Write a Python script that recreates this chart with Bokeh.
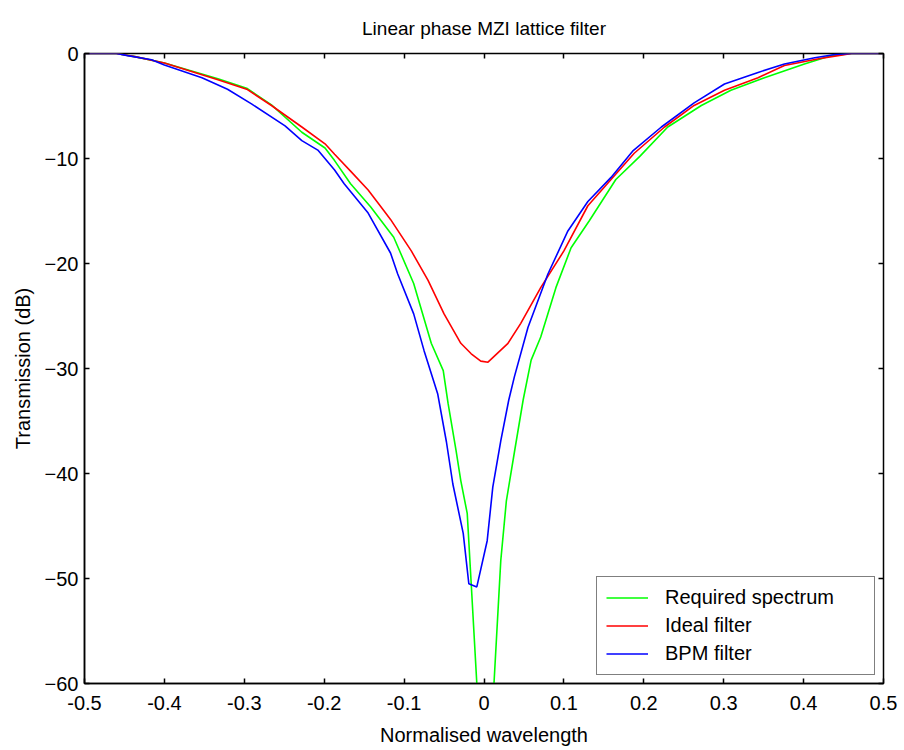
from bokeh.plotting import figure
from bokeh.models import LinearAxis, FixedTicker, Legend, LegendItem, Range1d
from bokeh.embed import file_html
from bokeh.resources import INLINE

# ---- data ----
req_x = [-0.5, -0.46, -0.437, -0.4, -0.333, -0.297, -0.266, -0.228, -0.199, -0.187, -0.167,
         -0.142, -0.113, -0.088, -0.066, -0.051, -0.045, -0.035, -0.029, -0.021, -0.016, -0.009,
         0.002, 0.0125, 0.021, 0.028, 0.038, 0.049, 0.059, 0.071, 0.090, 0.109, 0.132, 0.165,
         0.195, 0.230, 0.272, 0.309, 0.351, 0.401, 0.435, 0.46, 0.5]
req_y = [0, 0, -0.3, -0.9, -2.4, -3.3, -4.9, -7.5, -9.0, -10.2, -12.4,
         -14.6, -17.5, -21.9, -27.6, -30.2, -33.3, -37.8, -40.7, -43.8, -50.5, -60.0,
         -75.0, -60.0, -48.3, -42.6, -38.0, -33.0, -29.2, -27.0, -22.3, -18.5, -15.9, -12.0,
         -9.8, -7.0, -4.95, -3.5, -2.3, -1.0, -0.2, 0, 0]

ideal_x = [-0.5, -0.46, -0.437, -0.4, -0.333, -0.297, -0.266, -0.228, -0.199, -0.187, -0.167,
           -0.145, -0.125, -0.117, -0.091, -0.070, -0.050, -0.029, -0.016, -0.004, 0.005, 0.030,
           0.046, 0.071, 0.100, 0.130, 0.188, 0.226, 0.263, 0.301, 0.343, 0.376, 0.419, 0.443,
           0.46, 0.5]
ideal_y = [0, 0, -0.3, -0.9, -2.5, -3.4, -4.95, -7.0, -8.6, -9.6, -11.2,
           -13.0, -15.0, -15.8, -18.8, -21.6, -24.8, -27.6, -28.6, -29.3, -29.4, -27.6,
           -25.7, -22.3, -18.8, -14.5, -9.5, -7.0, -4.95, -3.5, -2.3, -1.14, -0.5, -0.2,
           0, 0]

bpm_x = [-0.5, -0.46, -0.446, -0.416, -0.4, -0.353, -0.321, -0.291, -0.249, -0.228, -0.208,
         -0.187, -0.175, -0.145, -0.117, -0.108, -0.088, -0.075, -0.058, -0.047, -0.039, -0.026,
         -0.019, -0.009, 0.004, 0.011, 0.021, 0.031, 0.038, 0.055, 0.080, 0.105, 0.130, 0.159,
         0.186, 0.222, 0.263, 0.301, 0.343, 0.376, 0.414, 0.439, 0.46, 0.5]
bpm_y = [0, 0, -0.2, -0.6, -1.1, -2.3, -3.4, -4.8, -6.9, -8.3, -9.2,
         -11.1, -12.4, -15.2, -19.0, -21.0, -24.8, -28.3, -32.4, -37.0, -41.0, -45.7,
         -50.5, -50.8, -46.4, -41.3, -36.9, -33.0, -30.8, -26.1, -21.0, -16.9, -14.1, -11.8,
         -9.3, -7.0, -4.7, -2.9, -1.8, -1.0, -0.4, -0.1, 0, 0]

x_ticks = [-0.5, -0.4, -0.3, -0.2, -0.1, 0, 0.1, 0.2, 0.3, 0.4, 0.5]
x_tick_labels = ["-0.5", "-0.4", "-0.3", "-0.2", "-0.1", "0", "0.1", "0.2", "0.3", "0.4", "0.5"]
y_ticks = [0, -10, -20, -30, -40, -50, -60]

FONT = "Liberation Sans"

p = figure(width=904, height=750, output_backend="svg", toolbar_location=None,
           x_range=Range1d(-0.5, 0.5), y_range=Range1d(-60, 0),
           min_border_left=84, min_border_right=21, min_border_top=53, min_border_bottom=67,
           title="Linear phase MZI lattice filter")
p.title.align = "center"
p.title.text_font = FONT
p.title.text_font_size = "19px"
p.title.text_font_style = "normal"
p.title.text_color = "black"
p.title.standoff = 30
p.grid.visible = False
p.outline_line_color = "black"
p.outline_line_width = 1.5
p.background_fill_color = "white"
p.border_fill_color = "white"

for ax in p.xaxis:
    ax.ticker = FixedTicker(ticks=x_ticks)
    ax.major_label_overrides = {t: l for t, l in zip(x_ticks, x_tick_labels)}
    ax.axis_label = "Normalised wavelength"
    ax.major_label_standoff = 12
    ax.axis_label_standoff = 11
for ax in p.yaxis:
    ax.ticker = FixedTicker(ticks=y_ticks)
    ax.axis_label = "Transmission (dB)"
    ax.major_label_standoff = 6
    ax.axis_label_standoff = 8

for ax in list(p.xaxis) + list(p.yaxis):
    ax.major_tick_in = 5
    ax.major_tick_out = 0
    ax.minor_tick_line_color = None
    ax.axis_line_color = "black"
    ax.axis_line_width = 1.5
    ax.major_tick_line_width = 1.5
    ax.major_label_text_font = FONT
    ax.major_label_text_font_size = "20px"
    ax.major_label_text_color = "black"
    ax.axis_label_text_font = FONT
    ax.axis_label_text_font_size = "20px"
    ax.axis_label_text_font_style = "normal"
    ax.axis_label_text_color = "black"

top = LinearAxis(ticker=FixedTicker(ticks=x_ticks), major_label_text_color=None,
                 major_label_text_font_size="1px",
                 major_tick_in=5, major_tick_out=0, minor_tick_line_color=None,
                 axis_line_color=None, major_tick_line_width=1.5, major_label_standoff=0)
right = LinearAxis(ticker=FixedTicker(ticks=y_ticks), major_label_text_color=None,
                   major_label_text_font_size="1px",
                   major_tick_in=5, major_tick_out=0, minor_tick_line_color=None,
                   axis_line_color=None, major_tick_line_width=1.5, major_label_standoff=0)
p.add_layout(top, "above")
p.add_layout(right, "right")

r1 = p.line(req_x, req_y, line_color="#00ff00", line_width=1.6)
r2 = p.line(ideal_x, ideal_y, line_color="#ff0000", line_width=1.6)
r3 = p.line(bpm_x, bpm_y, line_color="#0000ff", line_width=1.6)

legend = Legend(items=[LegendItem(label="Required spectrum", renderers=[r1]),
                       LegendItem(label="Ideal filter", renderers=[r2]),
                       LegendItem(label="BPM filter", renderers=[r3])],
                location="bottom_right")
legend.label_text_font = FONT
legend.label_text_font_size = "20px"
legend.label_text_color = "black"
legend.border_line_color = "black"
legend.border_line_width = 1.5
legend.glyph_width = 42
legend.glyph_height = 23
legend.label_height = 23
legend.label_width = 200
legend.spacing = 5
legend.padding = 9
legend.margin = 8
legend.label_standoff = 17
legend.background_fill_alpha = 1.0
p.add_layout(legend, "center")

open("out.html", "w").write(file_html(p, INLINE))
